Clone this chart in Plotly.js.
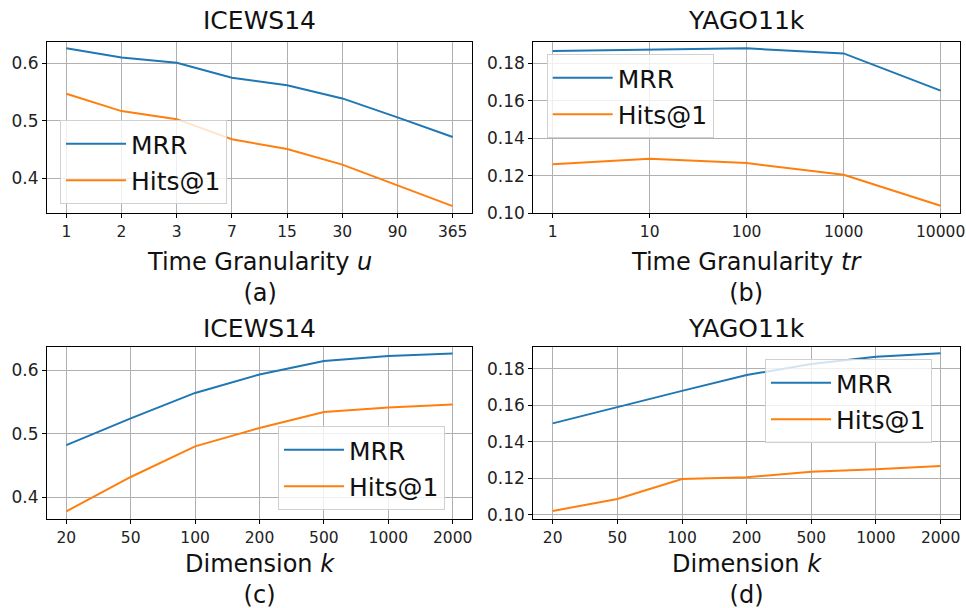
<!DOCTYPE html>
<html>
<head>
<meta charset="utf-8">
<script src="https://cdn.plot.ly/plotly-3.0.1.min.js"></script>
<style>html,body{margin:0;padding:0;background:#fff;}#chart{width:966px;height:608px;}</style>
</head>
<body>
<div id="chart"></div>
<script>
// ---- data ----
const granIcews = ["1","2","3","7","15","30","90","365"];
const mrrA  = [0.626, 0.610, 0.601, 0.575, 0.562, 0.539, 0.506, 0.472];
const hitsA = [0.547, 0.517, 0.503, 0.468, 0.451, 0.424, 0.388, 0.352];

const granYago = ["1","10","100","1000","10000"];
const mrrB  = [0.1866, 0.1871, 0.1880, 0.1853, 0.1654];
const hitsB = [0.1261, 0.1290, 0.1267, 0.1204, 0.1039];

const dims = ["20","50","100","200","500","1000","2000"];
const mrrC  = [0.482, 0.524, 0.564, 0.593, 0.614, 0.622, 0.626];
const hitsC = [0.378, 0.432, 0.480, 0.509, 0.534, 0.541, 0.546];

const mrrD  = [0.1502, 0.1593, 0.1680, 0.1767, 0.1827, 0.1867, 0.1886];
const hitsD = [0.1022, 0.1088, 0.1197, 0.1207, 0.1237, 0.1250, 0.1268];

const ticksIcewsY = [0.4, 0.5, 0.6];
const ticksYagoY = [0.10, 0.12, 0.14, 0.16, 0.18];

const panelTitles = ["ICEWS14", "YAGO11k", "ICEWS14", "YAGO11k"];
const xTitles = ["Time Granularity <i>u</i>", "Time Granularity <i>tr</i>", "Dimension <i>k</i>", "Dimension <i>k</i>"];
const subLabels = ["(a)", "(b)", "(c)", "(d)"];

// ---- layout helpers ----
const W = 966, H = 608;
const BLUE = "#1f77b4", ORANGE = "#ff7f0e";
const FONT = "DejaVu Sans, sans-serif";
const px = v => v / W;
const py = v => 1 - v / H;

const panels = [
  {x0: 47, x1: 472, y0: 42, y1: 213},
  {x0: 533.3, x1: 960, y0: 42, y1: 213},
  {x0: 47, x1: 472, y0: 346.7, y1: 519},
  {x0: 533.3, x1: 960, y0: 346.7, y1: 519}
];
const sets = [
  {x: granIcews, m: mrrA, h: hitsA},
  {x: granYago, m: mrrB, h: hitsB},
  {x: dims, m: mrrC, h: hitsC},
  {x: dims, m: mrrD, h: hitsD}
];
const yRanges = [[0.34, 0.637], [0.10, 0.1914], [0.366, 0.6366], [0.0978, 0.1922]];
const yTicks = [ticksIcewsY, ticksYagoY, ticksIcewsY, ticksYagoY];
const yFmt = [".1f", ".2f", ".1f", ".2f"];
const legendPos = [[60, 120], [546.7, 54], [278, 426], [765, 359]];

const traces = [];
const layout = {
  width: W, height: H,
  margin: {l: 0, r: 0, t: 0, b: 0},
  paper_bgcolor: "#fff", plot_bgcolor: "#fff",
  font: {family: FONT, color: "#000"},
  annotations: [],
  showlegend: true
};

sets.forEach((s, i) => {
  const n = i + 1;
  const xa = n === 1 ? "x" : "x" + n;
  const ya = n === 1 ? "y" : "y" + n;
  const lg = n === 1 ? "legend" : "legend" + n;
  traces.push({x: s.x, y: s.m, type: "scatter", mode: "lines", name: "MRR",
    line: {color: BLUE, width: 2}, xaxis: xa, yaxis: ya, legend: lg,
    legendgroup: "m" + n, hoverinfo: "skip"});
  traces.push({x: s.x, y: s.h, type: "scatter", mode: "lines", name: "Hits@1",
    line: {color: ORANGE, width: 2}, xaxis: xa, yaxis: ya, legend: lg,
    legendgroup: "h" + n, hoverinfo: "skip"});

  const p = panels[i];
  const nc = s.x.length;
  const pad = (nc - 1) * 0.05;
  const axKey = n === 1 ? "" : String(n);
  layout["xaxis" + axKey] = {
    domain: [px(p.x0), px(p.x1)], anchor: ya, type: "category",
    range: [-pad, nc - 1 + pad],
    tickvals: s.x, ticktext: s.x,
    showline: true, mirror: true, linecolor: "#000", linewidth: 1,
    ticks: "outside", ticklen: 4, tickcolor: "#000",
    showgrid: true, gridcolor: "#b0b0b0", gridwidth: 1,
    zeroline: false, tickfont: {size: 15.5, family: FONT, color: "#222"}
  };
  layout["yaxis" + axKey] = {
    domain: [py(p.y1), py(p.y0)], anchor: xa,
    range: yRanges[i], tickvals: yTicks[i], tickformat: yFmt[i],
    showline: true, mirror: true, linecolor: "#000", linewidth: 1,
    ticks: "outside", ticklen: 4, tickcolor: "#000",
    showgrid: true, gridcolor: "#b0b0b0", gridwidth: 1,
    zeroline: false, tickfont: {size: 17, family: FONT, color: "#222"}
  };
  layout[lg] = {
    x: px(legendPos[i][0]), y: py(legendPos[i][1]), xanchor: "left", yanchor: "top",
    xref: "paper", yref: "paper",
    bgcolor: "rgba(255,255,255,0.8)", bordercolor: "#d0d0d0", borderwidth: 1,
    font: {size: 25, family: FONT, color: "#111"}, itemwidth: 60,
    tracegroupgap: 1
  };

  const cx = px((p.x0 + p.x1) / 2);
  const top = i < 2 ? 21 : 328;
  const block = i < 2 ? 277.5 : 579;
  layout.annotations.push(
    {text: panelTitles[i], x: cx, y: py(top), xref: "paper", yref: "paper", showarrow: false,
     xanchor: "center", yanchor: "middle", font: {size: 25, family: FONT, color: "#111"}},
    {text: xTitles[i] + "<br>" + subLabels[i], x: cx, y: py(block), xref: "paper", yref: "paper",
     showarrow: false, xanchor: "center", yanchor: "middle", align: "center",
     font: {size: 24, family: FONT, color: "#111"}, borderpad: 0}
  );
});

Plotly.newPlot("chart", traces, layout, {staticPlot: true, displayModeBar: false});
</script>
</body>
</html>
